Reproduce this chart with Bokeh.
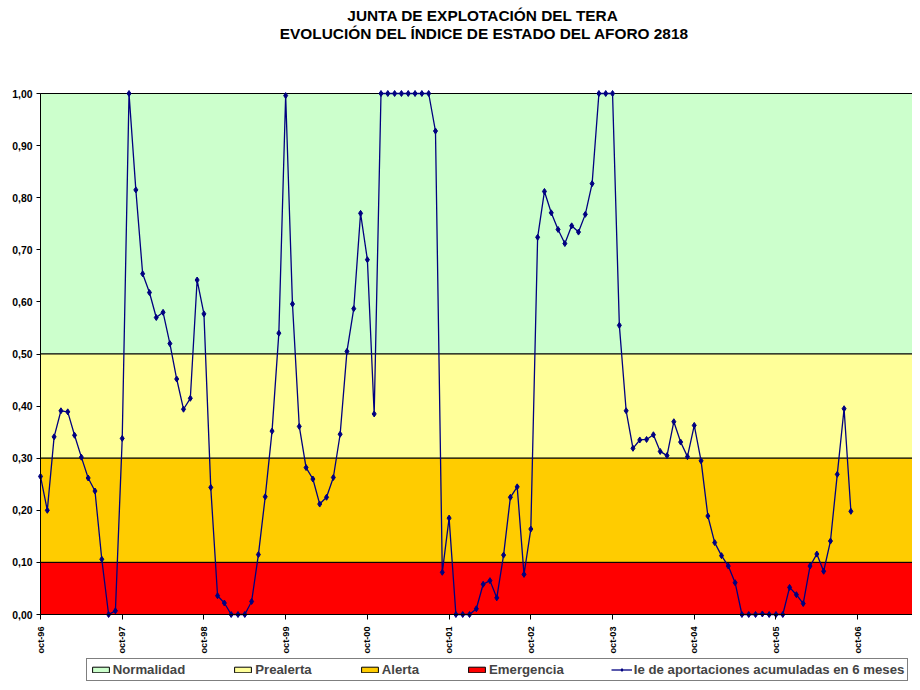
import math
from bokeh.plotting import figure
from bokeh.models import (Range1d, FixedTicker, CustomJSTickFormatter, Legend,
                          LegendItem, Label, ColumnDataSource)
from bokeh.core.properties import value
from bokeh.embed import file_html
from bokeh.resources import INLINE

# ---------------- data ----------------
title_lines = ["JUNTA DE EXPLOTACIÓN DEL TERA",
               "EVOLUCIÓN DEL ÍNDICE DE ESTADO DEL AFORO 2818"]

tick_labels = ["oct-96", "oct-97", "oct-98", "oct-99", "oct-00", "oct-01",
               "oct-02", "oct-03", "oct-04", "oct-05", "oct-06"]

# monthly values, oct-96 ... sep-06
ie_values = [
    0.265, 0.200, 0.341, 0.391, 0.389, 0.344, 0.302, 0.262, 0.237, 0.106, 0.000, 0.007,
    0.338, 1.000, 0.815, 0.654, 0.618, 0.570, 0.580, 0.520, 0.452, 0.394, 0.415, 0.642,
    0.577, 0.244, 0.036, 0.022, 0.000, 0.000, 0.000, 0.025, 0.115, 0.226, 0.352, 0.540,
    0.996, 0.596, 0.361, 0.282, 0.260, 0.212, 0.225, 0.263, 0.346, 0.505, 0.587, 0.770,
    0.681, 0.385, 1.000, 1.000, 1.000, 1.000, 1.000, 1.000, 1.000, 1.000, 0.928, 0.081,
    0.185, 0.000, 0.000, 0.000, 0.011, 0.058, 0.065, 0.032, 0.114, 0.225, 0.245, 0.077,
    0.164, 0.724, 0.812, 0.771, 0.739, 0.712, 0.746, 0.734, 0.768, 0.827, 1.000, 1.000,
    1.000, 0.555, 0.391, 0.319, 0.335, 0.336, 0.345, 0.313, 0.305, 0.370, 0.331, 0.303,
    0.363, 0.295, 0.189, 0.138, 0.113, 0.093, 0.061, 0.000, 0.000, 0.000, 0.001, 0.000,
    0.000, 0.000, 0.052, 0.038, 0.021, 0.093, 0.116, 0.083, 0.141, 0.269, 0.395, 0.198,
]

band_names = ["Normalidad", "Prealerta", "Alerta", "Emergencia"]
band_bottoms = [0.5, 0.3, 0.1, 0.0]
band_tops = [1.0, 0.5, 0.3, 0.1]
band_colors = ["#CCFFCC", "#FFFF99", "#FFCC00", "#FF0000"]
series_name = "Ie de aportaciones acumuladas en 6 meses"
y_ticks = [0.0, 0.1, 0.2, 0.3, 0.4, 0.5, 0.6, 0.7, 0.8, 0.9, 1.0]

# ---------------- layout constants (pixels) ----------------
FONT = "Liberation Sans"
W, H = 912, 682
LEFT_PX = 40         # pixel column of the first month (y axis)
TOP_PX = 93          # pixel row of value 1.0
ZERO_PX = 614        # pixel row of value 0.0
PX_PER_MONTH = 6.81

n = len(ie_values)
months = list(range(n))
tick_pos = [12 * i for i in range(len(tick_labels))]

unit = ZERO_PX - TOP_PX
y_lo = -(H - ZERO_PX) / unit
y_hi = 1.0 + TOP_PX / unit
x_lo = -LEFT_PX / PX_PER_MONTH
x_hi = (W - LEFT_PX) / PX_PER_MONTH

p = figure(width=W, height=H, output_backend="svg", toolbar_location=None,
           x_range=Range1d(x_lo, x_hi), y_range=Range1d(y_lo, y_hi),
           min_border_left=0, min_border_right=0, min_border_top=0,
           min_border_bottom=0)
p.title.visible = False
p.outline_line_color = None
p.grid.visible = False

band_renderers = []
for b, t, c in zip(band_bottoms, band_tops, band_colors):
    r = p.quad(left=months[0], right=2 * n, bottom=b, top=t, fill_color=c,
               line_color="black", line_width=1)
    band_renderers.append(r)

src = ColumnDataSource(dict(x=months, y=ie_values))
ln = p.line("x", "y", source=src, line_color="#000080", line_width=1.3)
mk = p.scatter("x", "y", source=src, marker="diamond", size=6,
               fill_color="#000080", line_color="#000080")

# x axis, drawn at value 0 (labels drawn as rotated text below)
xa = p.xaxis[0]
xa.fixed_location = 0
xa.bounds = (months[0], x_hi)
xa.ticker = FixedTicker(ticks=tick_pos)
xa.formatter = CustomJSTickFormatter(code="return '';")
xa.minor_tick_line_color = None
xa.major_tick_out = 5
xa.major_tick_in = 0
xa.axis_line_color = "black"
xa.major_tick_line_color = "black"

p.text(x=tick_pos, y=[0] * len(tick_pos), text=tick_labels, angle=math.pi / 2,
       text_align="right", text_baseline="middle", y_offset=12,
       text_font=value(FONT), text_font_size=value("9.2px"),
       text_font_style=value("bold"), text_color="black")

# y axis at the first month, limited to 0..1
ya = p.yaxis[0]
ya.fixed_location = months[0]
ya.bounds = (0, 1)
ya.ticker = FixedTicker(ticks=y_ticks)
ya.formatter = CustomJSTickFormatter(code="return tick.toFixed(2).replace('.', ',');")
ya.minor_tick_line_color = None
ya.major_tick_out = 4
ya.major_tick_in = 0
ya.major_label_standoff = 4
ya.major_label_text_font = FONT
ya.major_label_text_font_size = "10.4px"
ya.major_label_text_font_style = "bold"
ya.major_label_text_color = "black"
ya.axis_line_color = "black"
ya.major_tick_line_color = "black"

# titles (screen units relative to the frame's bottom-left)
for text, cx, cy in [(title_lines[0], 482.5, 15), (title_lines[1], 484, 33)]:
    p.add_layout(Label(x=cx, y=H - cy, x_units="screen", y_units="screen",
                       text=text, text_align="center", text_baseline="middle",
                       text_font=FONT, text_font_size="15.4px",
                       text_font_style="bold", text_color="black"))

# legend
items = [LegendItem(label=nm, renderers=[r]) for nm, r in zip(band_names, band_renderers)]
items.append(LegendItem(label=series_name, renderers=[ln, mk]))
legend = Legend(items=items, orientation="horizontal", location=(85.7, 1),
                border_line_color="black", border_line_width=1,
                background_fill_color="white", background_fill_alpha=1.0,
                spacing=47, glyph_width=21, glyph_height=7, label_standoff=2,
                label_text_font=FONT, label_text_font_size="13.2px",
                label_text_font_style="bold", label_height=13, margin=0,
                padding=3)
p.add_layout(legend)

open("out.html", "w").write(file_html(p, INLINE))
